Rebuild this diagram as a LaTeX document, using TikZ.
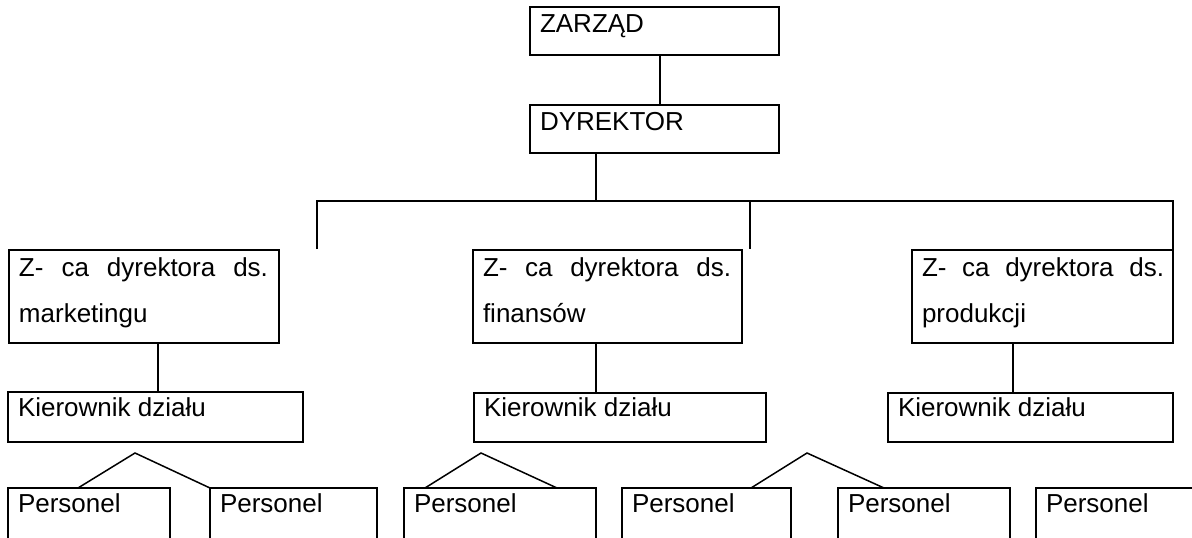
\documentclass[tikz,border=0pt]{standalone}
\usepackage{fontspec}
\setmainfont{Liberation Sans}
\begin{document}
\begin{tikzpicture}[x=1pt,y=-1pt,
  box/.style={draw,line width=1.5pt,inner sep=0pt,outer sep=0pt,anchor=north west},
  txt/.style={anchor=base west,inner sep=0pt,outer sep=0pt,font=\fontsize{26}{30}\selectfont},
  conn/.style={line width=1.5pt}]
\useasboundingbox (0,0) rectangle (1192,538);
\clip (0,0) rectangle (1192,538);

% top
\node[box,minimum width=249pt,minimum height=48pt] (zarzad) at (530,7) {};
\node[txt] (tzarzad) at (540,32) {ZARZĄD};
\node[box,minimum width=249pt,minimum height=48pt] (dyr) at (530,105) {};
\node[txt] (tdyr) at (540,130) {DYREKTOR};

% deputies
\node[box,minimum width=270pt,minimum height=93pt] (mark) at (9,250) {};
\node[txt] (tmark1) at (19,276) {\makebox[249pt][s]{Z- ca dyrektora ds.}};
\node[txt] (tmark2) at (19,322) {marketingu};
\node[box,minimum width=269pt,minimum height=93pt] (fin) at (473,250) {};
\node[txt] (tfin1) at (483,276) {\makebox[248pt][s]{Z- ca dyrektora ds.}};
\node[txt] (tfin2) at (483,322) {finansów};
\node[box,minimum width=261pt,minimum height=93pt] (prod) at (912,250) {};
\node[txt] (tprod1) at (922,276) {\makebox[242pt][s]{Z- ca dyrektora ds.}};
\node[txt] (tprod2) at (922,322) {produkcji};

% managers
\node[box,minimum width=295pt,minimum height=50pt] (kierm) at (8,392) {};
\node[txt] (tkierm) at (18,416) {Kierownik działu};
\node[box,minimum width=292pt,minimum height=49pt] (kierf) at (474,393) {};
\node[txt] (tkierf) at (484,416) {Kierownik działu};
\node[box,minimum width=285pt,minimum height=49pt] (kierp) at (888,393) {};
\node[txt] (tkierp) at (898,416) {Kierownik działu};

% staff (cut off at the bottom)
\node[box,minimum width=162pt,minimum height=80pt] (p1) at (8,488) {};
\node[txt] (tp1) at (18,512) {Personel};
\node[box,minimum width=167pt,minimum height=80pt] (p2) at (210,488) {};
\node[txt] (tp2) at (220,512) {Personel};
\node[box,minimum width=192pt,minimum height=80pt] (p3) at (404,488) {};
\node[txt] (tp3) at (414,512) {Personel};
\node[box,minimum width=169pt,minimum height=80pt] (p4) at (622,488) {};
\node[txt] (tp4) at (632,512) {Personel};
\node[box,minimum width=172pt,minimum height=80pt] (p5) at (838,488) {};
\node[txt] (tp5) at (848,512) {Personel};
\node[box,minimum width=200pt,minimum height=80pt] (p6) at (1036,488) {};
\node[txt] (tp6) at (1046,512) {Personel};

% connectors
\draw[conn] ([xshift=5.5]zarzad.south) -- ([xshift=5.5]dyr.north);

\coordinate (bus) at (596,201);
\coordinate (bl) at (317,201);
\coordinate (bm) at (750,201);
\coordinate (br) at (1173,201);
\coordinate (el) at (317,249);
\coordinate (em) at (750,249);
\draw[conn] ([xshift=-58.5]dyr.south) -- (bus);
\draw[conn] (el) -- (bl) -- (br) -- (prod.north east);
\draw[conn] (bm) -- (em);

\path ([xshift=14]mark.south) coordinate (m1);
\draw[conn] (m1) -- (m1 |- kierm.north);
\path ([xshift=-11.5]fin.south) coordinate (f1);
\draw[conn] (f1) -- (f1 |- kierf.north);
\path ([xshift=-29.5]prod.south) coordinate (r1);
\draw[conn] (r1) -- (r1 |- kierp.north);

\coordinate (a1) at (135,453);
\coordinate (a2) at (481,453);
\coordinate (a3) at (807,453);
\draw[conn] ([xshift=70]p1.north west) -- (a1) -- (p2.north west);
\draw[conn] ([xshift=21]p3.north west) -- (a2) -- ([xshift=153]p3.north west);
\draw[conn] ([xshift=129]p4.north west) -- (a3) -- ([xshift=46]p5.north west);
\end{tikzpicture}
\end{document}
